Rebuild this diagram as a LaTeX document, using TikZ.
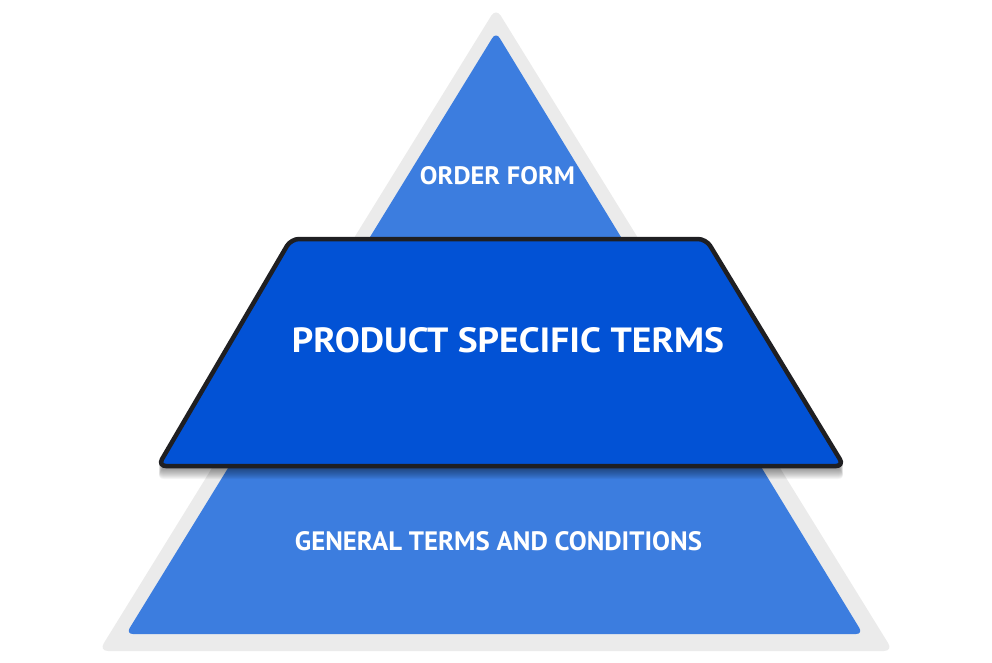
\documentclass[tikz,border=0pt]{standalone}
\usepackage{fontspec}
\usepackage{graphicx}
\setmainfont{PT Sans}
\definecolor{outergray}{HTML}{EBEBEB}
\definecolor{tribLue}{HTML}{3C7DDF}
\definecolor{trapblue}{HTML}{0252D5}
\definecolor{trapline}{HTML}{1F1F22}
\tikzset{
  lbl/.style={inner sep=0pt, text=white, font=\bfseries},
  trapshape/.style={rounded corners=8pt},
}
\begin{document}
\begin{tikzpicture}[x=1pt,y=-1pt]
\useasboundingbox (0,0) rectangle (992,662);
% outer gray triangle
\fill[outergray, rounded corners=9pt] (496,8) -- (893,651) -- (99,651) -- cycle;
% inner blue triangle
\fill[tribLue, rounded corners=7pt] (496,32) -- (863,634) -- (126,634) -- cycle;
% soft shadow below trapezoid
\foreach \k in {1,...,11}{
  \fill[black, opacity=0.045, trapshape, yshift=-\k pt]
    (291,239) -- (706,239) -- (846,468) -- (156,468) -- cycle;
}
% trapezoid
\draw[trapline, line width=4.5pt, fill=trapblue, trapshape]
  (291,239) -- (706,239) -- (844,466) -- (158,466) -- cycle;
% labels
\node[lbl] (order) at (497.5,176) {\resizebox{155pt}{18pt}{ORDER FORM}};
\node[lbl] (product) at (508,340.5) {\resizebox{432pt}{25pt}{PRODUCT SPECIFIC TERMS}};
\node[lbl] (general) at (498.5,541.5) {\resizebox{407pt}{19pt}{GENERAL TERMS AND CONDITIONS}};
\end{tikzpicture}
\end{document}
